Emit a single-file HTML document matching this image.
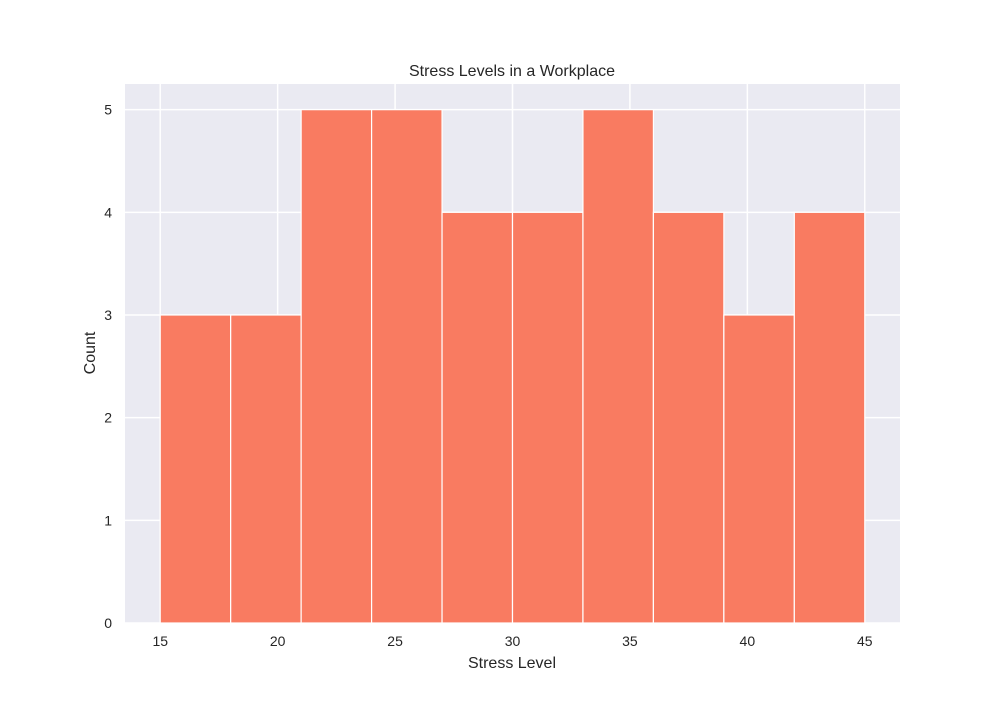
<!DOCTYPE html>
<html><head><meta charset="utf-8"><style>
body{margin:0;background:#fff;font-family:"Liberation Sans","DejaVu Sans",sans-serif;}
svg text{font-family:"Liberation Sans","DejaVu Sans",sans-serif;fill:#262626;}
</style></head><body>
<svg id="chart" width="1000" height="700" xmlns="http://www.w3.org/2000/svg">
<rect width="1000" height="700" fill="#fff"/>
<rect x="125" y="84" width="775" height="539" fill="#eaeaf2"/>
<g id="grid"></g><g id="bars"></g><g id="ticks"></g>
<text x="512" y="76" text-anchor="middle" font-size="16">Stress Levels in a Workplace</text>
<text x="512" y="668" text-anchor="middle" font-size="16">Stress Level</text>
<text transform="translate(95,353) rotate(-90)" text-anchor="middle" font-size="16">Count</text>
</svg>
<script>
const binEdges=[15,18,21,24,27,30,33,36,39,42,45];
const counts=[3,3,5,5,4,4,5,4,3,4];
const xTicks=[15,20,25,30,35,40,45];
const yTicks=[0,1,2,3,4,5];
const L=125,R=900,T=84,B=623,xmin=13.5,xmax=46.5,ymin=0,ymax=5.25;
const sx=v=>L+(v-xmin)/(xmax-xmin)*(R-L);
const sy=v=>B-(v-ymin)/(ymax-ymin)*(B-T);
const NS="http://www.w3.org/2000/svg";
function mk(t,a,p){const e=document.createElementNS(NS,t);for(const k in a)e.setAttribute(k,a[k]);p.appendChild(e);return e;}
const g=document.getElementById('grid'),b=document.getElementById('bars'),tk=document.getElementById('ticks');
xTicks.forEach(v=>{
 const l=mk('line',{x1:sx(v),x2:sx(v),y1:T,y2:B,stroke:'#fff','stroke-width':1.5},g);
 
 
 const t=mk('text',{x:sx(v),y:B+23,'text-anchor':'middle','font-size':14},tk);t.textContent=v;
 
 
});
yTicks.forEach(v=>{
 const l=mk('line',{x1:L,x2:R,y1:sy(v),y2:sy(v),stroke:'#fff','stroke-width':1.5},g);
 
 
 const t=mk('text',{x:L-13,y:sy(v)+5,'text-anchor':'end','font-size':14},tk);t.textContent=v;
 
 
});
counts.forEach((c,i)=>{
 const x0=sx(binEdges[i]),x1=sx(binEdges[i+1]);
 const r=mk('rect',{x:x0,y:sy(c),width:x1-x0,height:sy(0)-sy(c),fill:'#f97b61',stroke:'#fff','stroke-width':1.2},b);
 
 
});
</script>
</body></html>
